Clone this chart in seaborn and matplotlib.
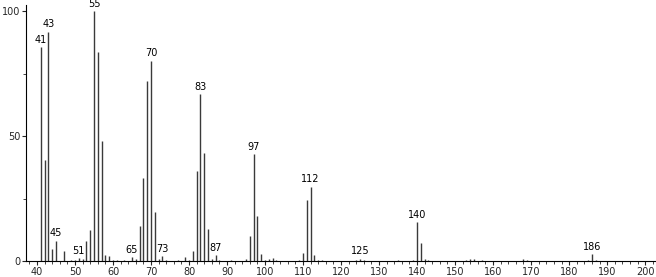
import matplotlib
matplotlib.use("Agg")
import matplotlib.pyplot as plt
import seaborn as sns
from matplotlib.ticker import MultipleLocator, FixedLocator

mz = [41, 42, 43, 44, 45, 47, 49, 50, 51, 52, 53, 54, 55, 56, 57, 58, 59, 60, 61, 63,
      65, 66, 67, 68, 69, 70, 71, 72, 73, 74, 77, 79, 80, 81, 82, 83, 84, 85, 86, 87,
      88, 91, 95, 96, 97, 98, 99, 100, 101, 102, 103, 109, 110, 111, 112, 113, 114, 115,
      124, 125, 126, 135, 139, 140, 141, 142, 143, 153, 154, 155, 157, 168, 169, 185, 186, 187]
intensity = [85.5, 40.3, 91.8, 4.8, 8.2, 3.9, 0.5, 0.6, 1.2, 0.7, 8.2, 12.6, 100, 83.8, 47.9,
             2.5, 2.1, 0.5, 0.3, 0.4, 1.6, 0.8, 14.2, 33.4, 72.1, 80.2, 19.6, 0.8, 2.1, 0.4,
             0.6, 1.6, 0.5, 3.9, 36.2, 66.8, 43.4, 13.0, 0.8, 2.5, 0.4, 0.3, 1.0, 9.9, 42.8,
             17.9, 2.9, 0.4, 0.8, 1.2, 0.4, 0.5, 3.1, 24.3, 29.8, 2.4, 0.4, 0.5, 0.4, 1.0,
             0.5, 0.4, 0.5, 15.7, 7.1, 0.8, 0.3, 0.4, 1.0, 0.8, 0.3, 0.8, 0.4, 0.5, 2.7, 0.4]
labeled_peaks = [41, 43, 45, 51, 55, 65, 70, 73, 83, 87, 97, 112, 125, 140, 186]
x_ticks = list(range(40, 201, 10))
y_ticks = [0, 50, 100]

sns.set_style("ticks")
plt.rcParams['font.family'] = ['DejaVu Sans']

fig = plt.figure(figsize=(6.56, 2.77), dpi=100)
ax = fig.add_axes([26/656, 16/277, (655-26)/656, (261-5)/277])

ax.vlines(mz, 0, intensity, colors='#3a3a3a', linewidth=1.0)

lookup = dict(zip(mz, intensity))
for p in labeled_peaks:
    ax.annotate(str(p), (p, lookup[p]), xytext=(0, 1.5), textcoords='offset points',
                ha='center', va='bottom', fontsize=7, color='black')

ax.set_xlim(37.1, 202.6)
ax.set_ylim(0, 102.4)
ax.xaxis.set_major_locator(FixedLocator(x_ticks))
ax.xaxis.set_minor_locator(MultipleLocator(2))
ax.yaxis.set_major_locator(FixedLocator(y_ticks))
ax.yaxis.set_minor_locator(FixedLocator([25, 75]))
ax.tick_params(axis='x', which='major', direction='out', length=3, width=0.8, labelsize=7, pad=1.5)
ax.tick_params(axis='x', which='minor', direction='out', length=1.8, width=0.6)
ax.tick_params(axis='y', which='major', direction='out', length=3, width=0.8, labelsize=7, pad=1)
ax.tick_params(axis='y', which='minor', direction='out', length=2, width=0.6)
for s in ['top', 'right']:
    ax.spines[s].set_visible(False)
for s in ['left', 'bottom']:
    ax.spines[s].set_linewidth(0.8)
    ax.spines[s].set_color('black')

fig.savefig("out.png", dpi=100)
